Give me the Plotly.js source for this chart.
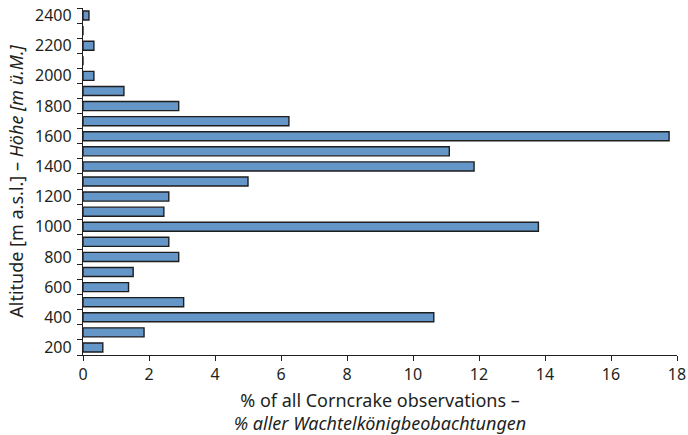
<!DOCTYPE html>
<html><head><meta charset="utf-8">
<script src="https://cdn.plot.ly/plotly-3.0.1.min.js"></script>
<style>body{margin:0;padding:0;background:#fff}#chart{width:688px;height:435px}</style>
</head><body><div id="chart"></div>
<script>
const altitudes = [200,300,400,500,600,700,800,900,1000,1100,1200,1300,1400,1500,1600,1700,1800,1900,2000,2100,2200,2300,2400];
const percents = [0.6,1.85,10.63,3.05,1.38,1.52,2.9,2.6,13.8,2.45,2.6,5.0,11.85,11.1,17.76,6.24,2.9,1.24,0.33,0,0.33,0,0.18];
const yTickVals = [200,400,600,800,1000,1200,1400,1600,1800,2000,2200,2400];
const xTickVals = [0,2,4,6,8,10,12,14,16,18];
const font = "Noto Sans, Open Sans, sans-serif";

Plotly.newPlot('chart', [{
  type: 'bar', orientation: 'h',
  x: percents, y: altitudes,
  width: 60,
  marker: {color: '#6596c8', line: {color: '#1e1e1e', width: 1.4}},
  hoverinfo: 'none'
}], {
  width: 688, height: 435,
  margin: {l: 83, r: 11, t: 8, b: 80},
  paper_bgcolor: '#fff', plot_bgcolor: '#fff',
  showlegend: false,
  font: {family: font, size: 16, color: '#231f20'},
  xaxis: {
    range: [0, 18], tickvals: xTickVals, ticks: 'outside', ticklen: 5, tickcolor: '#231f20',
    showline: true, linecolor: '#231f20', linewidth: 1.2, showgrid: false, zeroline: false,
    tickfont: {size: 16},
    title: {text: '% of all Corncrake observations –<br><i>% aller Wachtelkönigbeobachtungen</i>', font: {size: 18}, standoff: 10}
  },
  yaxis: {
    range: [150, 2450], tickvals: yTickVals, ticks: '', showline: true, linecolor: '#231f20', linewidth: 1.2,
    showgrid: false, zeroline: false, tickfont: {size: 16}, ticklabelstandoff: 7,
    minor: {ticks: 'outside', tick0: 150, dtick: 100, ticklen: 5, tickcolor: '#231f20', showgrid: false},
    title: {text: 'Altitude [m a.s.l.] – <i>Höhe [m ü.M.]</i>', font: {size: 18}, standoff: 6}
  }
}, {staticPlot: true});
</script></body></html>
